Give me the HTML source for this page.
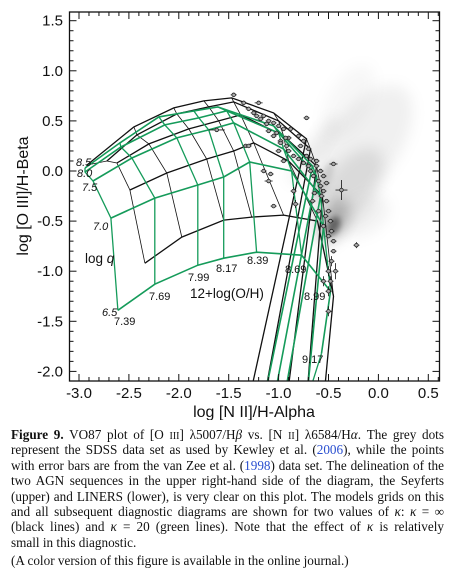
<!DOCTYPE html>
<html><head><meta charset="utf-8">
<style>
html,body{margin:0;padding:0;background:#fff;}
body{width:455px;height:579px;position:relative;overflow:hidden;font-family:"Liberation Sans",sans-serif;}
#cap{position:absolute;left:11px;top:427px;width:433px;font-family:"Liberation Serif",serif;font-size:13.2px;color:#111;}
#cap .ln{height:15.4px;line-height:15.4px;white-space:nowrap;text-align:justify;text-align-last:justify;}
#cap a{color:#2a4fd0;text-decoration:none;}
</style></head><body>
<svg id="chart" width="455" height="420" style="position:absolute;left:0;top:0" xmlns="http://www.w3.org/2000/svg">
<defs>
<clipPath id="frameClip"><rect x="70" y="12.5" width="369" height="368"/></clipPath>
<filter id="blur6" x="-50%" y="-50%" width="200%" height="200%"><feGaussianBlur stdDeviation="7"/></filter>
<filter id="blur3" x="-50%" y="-50%" width="200%" height="200%"><feGaussianBlur stdDeviation="3"/></filter>
</defs>
<g id="cloud" clip-path="url(#frameClip)"></g>
<g id="gridsK" clip-path="url(#frameClip)"></g>
<g id="gridsG" clip-path="url(#frameClip)"></g>
<g id="pts" clip-path="url(#frameClip)"></g>
<g id="axes"></g>
<g id="labels" font-family="Liberation Sans, sans-serif" font-size="11" fill="#111">
<text x="76" y="166" font-style="italic">8.5</text>
<text x="77" y="177" font-style="italic">8.0</text>
<text x="82" y="191" font-style="italic">7.5</text>
<text x="93" y="230" font-style="italic">7.0</text>
<text x="102" y="316" font-style="italic">6.5</text>
<text x="114" y="325">7.39</text>
<text x="149" y="300">7.69</text>
<text x="188" y="281">7.99</text>
<text x="216" y="272">8.17</text>
<text x="247" y="264">8.39</text>
<text x="285" y="273">8.69</text>
<text x="304" y="300">8.99</text>
<text x="302" y="363">9.17</text>
<text x="85" y="263" font-size="13.5">log <tspan font-style="italic">q</tspan></text>
<text x="190" y="298" font-size="13.5">12+log(O/H)</text>
</g>
<text x="254" y="417" text-anchor="middle" font-size="16" font-family="Liberation Sans, sans-serif" fill="#111">log [N II]/H-Alpha</text>
<text transform="translate(28,196) rotate(-90)" text-anchor="middle" font-size="16" font-family="Liberation Sans, sans-serif" fill="#111">log [O III]/H-Beta</text>
</svg>
<div id="cap">
<div class="ln"><b>Figure 9.</b> VO87 plot of [O <span style="font-size:10px">III</span>] λ5007/H<i>β</i> vs. [N <span style="font-size:10px">II</span>] λ6584/H<i>α</i>. The grey dots</div>
<div class="ln">represent the SDSS data set as used by Kewley et al. (<a>2006</a>), while the points</div>
<div class="ln">with error bars are from the van Zee et al. (<a>1998</a>) data set. The delineation of the</div>
<div class="ln">two AGN sequences in the upper right-hand side of the diagram, the Seyferts</div>
<div class="ln">(upper) and LINERS (lower), is very clear on this plot. The models grids on this</div>
<div class="ln">and all subsequent diagnostic diagrams are shown for two values of <i>κ</i>: <i>κ</i> = ∞</div>
<div class="ln">(black lines) and <i>κ</i> = 20 (green lines). Note that the effect of <i>κ</i> is relatively</div>
<div class="ln" style="text-align:left;text-align-last:left">small in this diagnostic.</div>
<div class="ln" style="text-align:left;text-align-last:left;margin-top:3px">(A color version of this figure is available in the online journal.)</div>
</div>
<script>
const xTicks=[-3.0,-2.5,-2.0,-1.5,-1.0,-0.5,0.0,0.5];
const yTicks=[1.5,1.0,0.5,0.0,-0.5,-1.0,-1.5,-2.0];
const qValues=[6.5,7.0,7.5,8.0,8.5];
const zValues=[7.39,7.69,7.99,8.17,8.39,8.69,8.99,9.17];
// kappa=20 (green) grid: per log q row, points for each metallicity [x,y]
const greenQ65=[[-2.61,-1.39],[-2.24,-1.13],[-1.81,-0.94],[-1.55,-0.87],[-1.22,-0.81],[-0.77,-0.84],[-0.48,-1.20],[-0.57,-1.82]];
const greenQ70=[[-2.68,-0.47],[-2.24,-0.27],[-1.81,-0.14],[-1.55,-0.06],[-1.29,0.09],[-0.87,0.00],[-0.55,-0.55],[-0.72,-2.3]];
const greenQ75=[[-2.86,-0.10],[-2.47,0.13],[-2.02,0.33],[-1.70,0.41],[-1.45,0.48],[-0.95,0.22],[-0.58,-0.25],[-0.95,-2.3]];
const greenQ80=[[-2.94,-0.01],[-2.58,0.24],[-2.14,0.46],[-1.80,0.53],[-1.52,0.60],[-1.00,0.38],[-0.62,-0.05],[-1.05,-2.3]];
const greenQ85=[[-2.94,0.03],[-2.59,0.28],[-2.20,0.54],[-1.85,0.60],[-1.61,0.64],[-1.05,0.45],[-0.66,0.05],[-1.15,-2.3]];
// kappa=inf (black) grid
const blackQ65=[[-2.34,-0.92],[-1.97,-0.66],[-1.55,-0.49],[-1.27,-0.46],[-0.95,-0.44],[-0.61,-0.50],[-0.45,-1.25],[-0.55,-2.3]];
const blackQ70=[[-2.49,-0.19],[-2.12,-0.02],[-1.72,0.12],[-1.45,0.20],[-1.25,0.28],[-0.90,0.10],[-0.56,-0.25],[-0.72,-2.3]];
const blackQ75=[[-2.62,0.08],[-2.30,0.27],[-1.90,0.42],[-1.60,0.50],[-1.38,0.56],[-0.95,0.35],[-0.62,0.05],[-0.92,-2.3]];
const blackQ80=[[-2.72,0.10],[-2.42,0.36],[-2.02,0.57],[-1.70,0.64],[-1.45,0.69],[-1.00,0.50],[-0.68,0.22],[-1.15,-2.3]];
const blackQ85=[[-2.92,0.06],[-2.45,0.44],[-2.05,0.63],[-1.75,0.70],[-1.47,0.73],[-1.05,0.58],[-0.72,0.32],[-1.30,-2.3]];
// van Zee et al. points: x, y, x-error, y-error
const vzX=[-1.45,-1.35,-1.20,-1.30,-1.25,-1.15,-1.10,-1.05,-1.00,-0.95,-0.72,-1.62,-1.33,-1.05,-0.98,-0.92,-0.90,-0.85,-0.80,-0.75,-0.70,-0.68,-0.65,-0.60,-0.58,-0.55,-0.52,-0.50,-0.48,-0.47,-0.45,-0.45,-0.47,-0.50,-0.48,-0.50,-0.50,-0.55,-0.43,-0.37,-0.45,-0.22,-0.85,-0.83,-1.05,-1.10,-1.15,-1.08,-1.30,-0.88,-0.80,-0.75,-0.70,-0.62,-0.58,-0.55,-0.60,-0.55,-0.95,-1.00,-1.10,-1.22,-1.18,-0.98,-0.90,-0.66,-0.64,-0.52,-1.12,-1.02,-0.93,-0.78,-0.72,-0.68,-0.62,-0.57,-0.53,-0.50];
const vzY=[0.76,0.68,0.68,0.62,0.58,0.55,0.50,0.48,0.45,0.42,0.53,0.41,0.25,0.35,0.30,0.25,0.20,0.15,0.12,0.08,0.05,0.00,-0.05,-0.10,-0.15,-0.20,-0.30,-0.40,-0.50,-0.60,-0.70,-0.80,-0.90,-1.00,-1.10,-1.20,-1.40,-1.10,-1.00,-0.19,0.07,-0.74,-0.20,-0.33,-0.35,-0.10,0.00,-0.03,0.25,0.42,0.35,0.30,0.22,0.10,0.00,-0.05,-0.40,-0.55,0.10,0.20,0.40,0.55,0.52,0.28,0.33,-0.30,-0.22,-0.12,0.47,0.38,0.33,0.25,0.15,0.12,0.05,-0.25,-0.45,-0.65];
const vzEX=[0.03,0.03,0.04,0.03,0.03,0.03,0.03,0.03,0.03,0.03,0.03,0.08,0.03,0.03,0.03,0.03,0.03,0.03,0.03,0.03,0.03,0.03,0.03,0.03,0.03,0.03,0.03,0.03,0.03,0.03,0.03,0.03,0.03,0.03,0.03,0.03,0.03,0.03,0.03,0.06,0.04,0.03,0.03,0.03,0.03,0.04,0.03,0.03,0.03,0.03,0.03,0.03,0.03,0.03,0.03,0.03,0.03,0.03,0.03,0.03,0.03,0.03,0.03,0.03,0.03,0.03,0.03,0.03,0.03,0.03,0.03,0.03,0.03,0.03,0.03,0.03,0.03,0.03];
const vzEY=[0.02,0.02,0.02,0.02,0.02,0.02,0.02,0.02,0.02,0.02,0.02,0.02,0.02,0.02,0.02,0.02,0.02,0.02,0.02,0.02,0.02,0.02,0.02,0.02,0.02,0.02,0.02,0.02,0.02,0.02,0.02,0.02,0.05,0.05,0.05,0.05,0.05,0.05,0.08,0.10,0.02,0.03,0.04,0.04,0.02,0.02,0.02,0.02,0.02,0.02,0.02,0.02,0.02,0.02,0.02,0.02,0.02,0.02,0.02,0.02,0.02,0.02,0.02,0.02,0.02,0.02,0.02,0.02,0.02,0.02,0.02,0.02,0.02,0.02,0.02,0.02,0.02,0.02];

const NS="http://www.w3.org/2000/svg";
const X0=79, XS=99.8, Y0=171, YS=100.2;
function sx(v){return X0+(v+3)*XS;}
function sy(v){return Y0-v*YS;}
function mk(tag,attrs,parent){const e=document.createElementNS(NS,tag);for(const k in attrs)e.setAttribute(k,attrs[k]);parent.appendChild(e);return e;}

const cloud=document.getElementById('cloud');
function blob(cx,cy,rx,ry,rot,op,f){const e=mk('ellipse',{cx:sx(cx),cy:sy(cy),rx:rx,ry:ry,transform:`rotate(${rot} ${sx(cx)} ${sy(cy)})`,fill:'#000','fill-opacity':op,filter:f},cloud);

}
blob(-0.15,0.25,70,35,-55,0.06,'url(#blur6)');
blob(-0.3,0.7,40,20,-60,0.03,'url(#blur6)');
blob(-0.3,-0.2,50,25,-55,0.09,'url(#blur6)');
blob(-0.45,-0.5,24,12,-65,0.25,'url(#blur6)');
blob(-0.45,-0.55,10,6,-65,0.45,'url(#blur3)');
blob(-0.65,0.2,40,8,-55,0.08,'url(#blur6)');
blob(-0.55,-0.1,22,6,-65,0.12,'url(#blur3)');
blob(-0.15,-0.45,28,18,-30,0.05,'url(#blur6)');

function drawGrid(rows,parent,color,wRow,wCol,nm){
  const path=pts=>pts.map((p,i)=>(i?'L':'M')+sx(p[0]).toFixed(1)+','+sy(p[1]).toFixed(1)).join(' ');
  rows.forEach((r,i)=>{const e=mk('path',{d:path(r),fill:'none',stroke:color,'stroke-width':wRow},parent);
    
    });
  for(let j=0;j<zValues.length;j++){const col=rows.map(r=>r[j]);
    const e=mk('path',{d:path(col),fill:'none',stroke:color,'stroke-width':wCol},parent);
    
    }
}
drawGrid([blackQ65,blackQ70,blackQ75,blackQ80,blackQ85],document.getElementById('gridsK'),'#111',1.3,0.8,'black');
drawGrid([greenQ65,greenQ70,greenQ75,greenQ80,greenQ85],document.getElementById('gridsG'),'#159b5a',1.6,1.3,'green');

const ptsG=document.getElementById('pts');
for(let i=0;i<vzX.length;i++){
  const g=mk('g',{},ptsG);
  
  
  const x=sx(vzX[i]),y=sy(vzY[i]);
  mk('line',{x1:sx(vzX[i]-vzEX[i]),x2:sx(vzX[i]+vzEX[i]),y1:y,y2:y,stroke:'#111','stroke-width':0.8},g);
  mk('line',{x1:x,x2:x,y1:sy(vzY[i]-vzEY[i]),y2:sy(vzY[i]+vzEY[i]),stroke:'#111','stroke-width':0.8},g);
  mk('circle',{cx:x,cy:y,r:1.8,fill:'#aaa',stroke:'#222','stroke-width':0.8},g);
}

const ax=document.getElementById('axes');
const fr=mk('rect',{x:69.5,y:12,width:370,height:369,fill:'none',stroke:'#111','stroke-width':1.3},ax);


for(let k=-31;k<=6;k++){const v=k/10;const X=sx(v);if(X<70||X>439)continue;const major=Math.abs(k%5)===0;const L=major?7:4;
  mk('line',{x1:X,x2:X,y1:381,y2:381-L,stroke:'#111','stroke-width':1},ax);
  mk('line',{x1:X,x2:X,y1:12,y2:12+L,stroke:'#111','stroke-width':1},ax);}
for(let k=-21;k<=16;k++){const v=k/10;const Y=sy(v);if(Y<12||Y>381)continue;const major=Math.abs(k%5)===0;const L=major?7:4;
  mk('line',{x1:69.5,x2:69.5+L,y1:Y,y2:Y,stroke:'#111','stroke-width':1},ax);
  mk('line',{x1:439.5,x2:439.5-L,y1:Y,y2:Y,stroke:'#111','stroke-width':1},ax);}
xTicks.forEach(v=>{const t=mk('text',{x:sx(v),y:398,'text-anchor':'middle','font-size':15,'font-family':'Liberation Sans, sans-serif',fill:'#111'},ax);t.textContent=v.toFixed(1);
  
  });
yTicks.forEach(v=>{const t=mk('text',{x:63,y:sy(v)+5,'text-anchor':'end','font-size':15,'font-family':'Liberation Sans, sans-serif',fill:'#111'},ax);t.textContent=v.toFixed(1);
  
  });
</script>
</body></html>
